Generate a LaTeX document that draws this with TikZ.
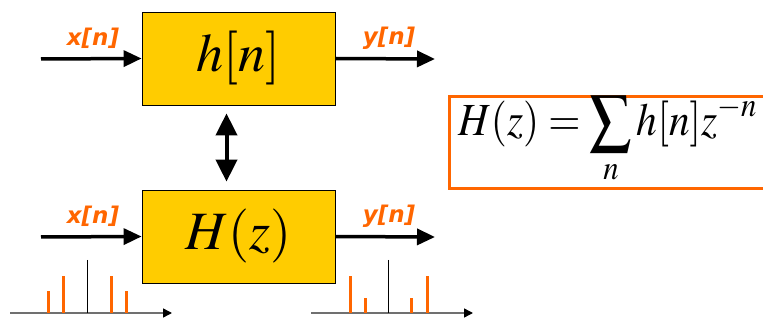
\documentclass[tikz,border=0pt]{standalone}
\usepackage{fontspec}
\usepackage{mathptmx}
\usepackage{tikz}
\usetikzlibrary{positioning,arrows.meta}
\newfontfamily\lblfont{DejaVu Sans}
\definecolor{boxgold}{HTML}{FFCC00}
\definecolor{sigorange}{HTML}{FF6600}
\definecolor{axgray}{HTML}{707070}
\tikzset{
  sysbox/.style={draw=black,line width=0.8pt,fill=boxgold,minimum width=193pt,minimum height=93pt,inner sep=0pt},
  sig/.style={line width=3.5pt,-{Triangle[length=18pt,width=16pt]}},
  siglabel/.style={text=sigorange,font={\lblfont\bfseries\itshape\fontsize{23}{26}\selectfont},inner sep=0pt},
  stem/.style={sigorange,line width=3pt},
  axis/.style={axgray,line width=1.4pt,-{Triangle[length=9pt,width=9pt,black]}}
}
\begin{document}
\begin{tikzpicture}[x=1pt,y=-1pt]
    \useasboundingbox (0,0) rectangle (763,320);
    % time domain and z domain blocks
    \node[sysbox](hbox) at (238.5,58.5){\fontsize{54}{60}\selectfont$h[n]$};
    \node[sysbox](Hbox) at (238.5,236.5){\fontsize{54}{60}\selectfont$H(z)$};
    \coordinate(xin1) at (41,59); \coordinate(yout1) at (435,59);
    \coordinate(xin2) at (41,237); \coordinate(yout2) at (435,237);
    \draw[sig](xin1)--(hbox.west);
    \draw[sig](hbox.east)--(yout1);
    \draw[sig](xin2)--(Hbox.west);
    \draw[sig](Hbox.east)--(yout2);
    \node[siglabel](xlab1) at (93,38){x[n]};
    \node[siglabel](ylab1) at (389,38){y[n]};
    \node[siglabel](xlab2) at (93,216){x[n]};
    \node[siglabel](ylab2) at (389,216){y[n]};
    \draw[line width=4pt,{Triangle[length=22pt,width=21pt]}-{Triangle[length=22pt,width=21pt]}]
      ([xshift=-12pt,yshift=-8pt]hbox.south)--([xshift=-12pt,yshift=8pt]Hbox.north);
    % transform formula
    \node[draw=sigorange,line width=3pt,anchor=north west,minimum width=330pt,minimum height=92pt](formbox) at (448,95){};
    \node[anchor=west,inner sep=0pt](formula) at (458,140){\scalebox{0.9}[1]{\fontsize{46}{50}\selectfont$\displaystyle H(z)=\sum_n h[n]z^{-n}$}};
    % stem plots
    \draw[axis](10,313)--(172,313);
    \draw[black,line width=0.8pt](87,260)--(87,313);
    \foreach \sx/\sy in {48/291,63/276,111/276,126/291}\draw[stem](\sx,313)--(\sx,\sy);
    \draw[axis](311,313)--(473,313);
    \draw[black,line width=0.8pt](388,260)--(388,313);
    \foreach \sx/\sy in {350/276,365/298,411/298,427/276}\draw[stem](\sx,313)--(\sx,\sy);
\end{tikzpicture}
\end{document}
